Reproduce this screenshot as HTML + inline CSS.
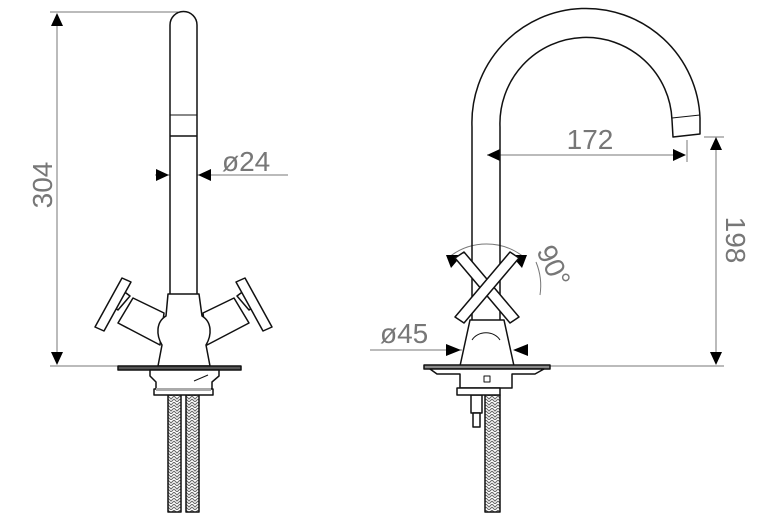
<!DOCTYPE html>
<html><head><style>
html,body{margin:0;padding:0;background:#fff;width:767px;height:528px;overflow:hidden}
text{font-family:"Liberation Sans",sans-serif;fill:#777;font-size:28px}
</style></head><body>
<svg width="767" height="528" viewBox="0 0 767 528" xmlns="http://www.w3.org/2000/svg">
<defs>
<pattern id="h" width="6" height="6" patternUnits="userSpaceOnUse">
<path d="M0 0 L3 3 L6 0 M0 3 L3 6 L6 3" stroke="#666" stroke-width="1" fill="none"/>
</pattern>
</defs>
<g stroke="#777" stroke-width="1" fill="none">
<line x1="50" y1="12" x2="178" y2="12"/>
<line x1="57" y1="14" x2="57" y2="363"/>
<line x1="50" y1="366" x2="118" y2="366"/>
<line x1="155" y1="175" x2="288" y2="175"/>
<line x1="487" y1="155" x2="685" y2="155"/>
<line x1="687" y1="140" x2="687" y2="162"/>
<line x1="704" y1="137" x2="724" y2="137"/>
<line x1="716" y1="140" x2="716" y2="363"/>
<line x1="550" y1="366" x2="724" y2="366"/>
<line x1="370" y1="350" x2="462" y2="350"/>
<path d="M448 258 A60 60 0 0 1 525 258"/>
<path d="M536 262 A62 62 0 0 1 540 295"/>
</g>
<g fill="#000">
<path d="M57 13 L51 26 L63 26Z"/><path d="M57 365 L51 352 L63 352Z"/>
<path d="M169 175 L156 169 L156 181Z"/><path d="M198 175 L211 169 L211 181Z"/>
<path d="M487 155 L500 149 L500 161Z"/><path d="M686 155 L673 149 L673 161Z"/>
<path d="M716 137 L710 150 L722 150Z"/><path d="M716 365 L710 352 L722 352Z"/>
<path d="M461 350 L446 344 L446 356Z"/><path d="M513 350 L528 344 L528 356Z"/>
<path d="M446 255 L462 255 L451 268Z"/><path d="M527 255 L511 255 L522 268Z"/>
</g>
<text x="222" y="171">ø24</text>
<text transform="translate(52,185) rotate(-90)" text-anchor="middle">304</text>
<text x="590" y="149" text-anchor="middle">172</text>
<text transform="translate(726,240) rotate(90)" text-anchor="middle">198</text>
<text x="380" y="343">ø45</text>
<text transform="translate(545,270) rotate(65)" text-anchor="middle">90°</text>
<g stroke="#111" stroke-width="1.5" fill="#fff" stroke-linejoin="round">
<rect x="168" y="395" width="13" height="117" fill="url(#h)"/>
<rect x="186" y="395" width="13" height="117" fill="url(#h)"/>
<path d="M170 295 L170 25 A13.5 13.5 0 0 1 197 25 L197 295"/>
<line x1="170" y1="115" x2="197" y2="115" stroke-width="1"/>
<line x1="170" y1="136" x2="197" y2="136"/>
<path d="M133 298 L164 313 L160 345 L118 323Z"/>
<path d="M234 298 L203 313 L207 345 L249 323Z"/>
<path d="M168 294 L199 294 L202 316 C212 322 212 335 206 345 L210 366 L158 366 L162 345 C156 335 156 322 166 316Z"/>
<path d="M110 304 L122 290 L130 296 L118 310Z"/>
<path d="M122 278 L131 282 L104 331 L95 327Z"/>
<path d="M257 304 L245 290 L237 296 L249 310Z"/>
<path d="M245 278 L236 282 L263 331 L272 327Z"/>
<rect x="118" y="366" width="123" height="4" fill="#555"/>
<path d="M150 370 L219 370 L219 376 L212 382 L212 389 L156 389 L156 382 L150 376Z"/>
<rect x="154" y="389" width="59" height="6"/>
<rect x="156" y="388" width="55" height="3" fill="#aaa" stroke="none"/>
<line x1="194" y1="381" x2="208" y2="375" stroke-width="1"/>
<rect x="485" y="395" width="15" height="117" fill="url(#h)"/>
<rect x="471" y="395" width="11" height="18"/>
<rect x="473" y="413" width="7" height="14"/>
<path d="M472 330 L472 127 A114 114 0 0 1 700 118 L700 134 L673 137 L672 120 A86 86 0 0 0 500 127 L500 330" fill="none"/>
<line x1="672" y1="118" x2="700" y2="115" stroke-width="1"/>
<path d="M470 320 L504 320 L514 366 L460 366Z"/>
<path d="M472 340 A16 14 0 0 1 500 340" stroke-width="1" fill="none"/>
<path d="M455 258 L464 252 L519 317 L510 323Z"/>
<path d="M519 258 L510 252 L455 317 L464 323Z"/>
<rect x="424" y="365" width="126" height="4" fill="#888"/>
<path d="M430 369 L544 369 L535 374 L512 374 L512 388 L460 388 L460 374 L437 374Z"/>
<rect x="484" y="376" width="6" height="6" stroke-width="1"/>
<rect x="457" y="388" width="43" height="7"/>
</g>
</svg>
</body></html>
